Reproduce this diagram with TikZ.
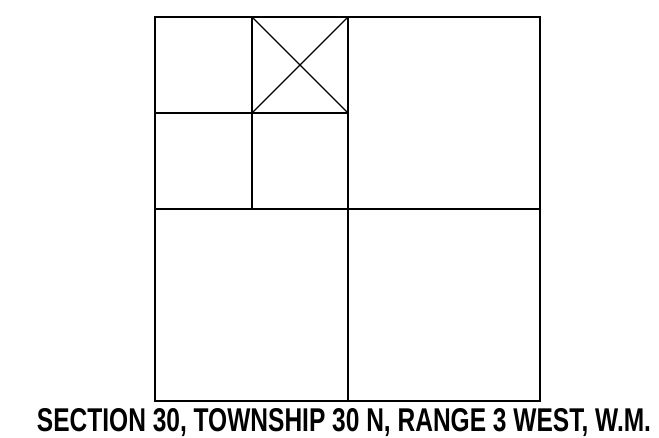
\documentclass[tikz,border=0pt]{standalone}
\usepackage{fontspec}
\setmainfont{Liberation Sans}
\begin{document}
\begin{tikzpicture}[x=1pt,y=1pt,line width=1.6pt,
  gridline/.style={draw=black,line width=1.6pt},
  xline/.style={draw=black,line width=1.3pt}]
\useasboundingbox (0,0) rectangle (659,437);
\coordinate (sw) at (155,36);
\coordinate (ne) at (540,420);
\coordinate (mt) at (348,420);
\coordinate (mb) at (348,36);
\coordinate (ml) at (155,228);
\coordinate (mr) at (540,228);
\coordinate (qt) at (252,420);
\coordinate (qb) at (252,228);
\coordinate (ql) at (155,324);
\coordinate (qr) at (348,324);
\draw[gridline] (sw) rectangle (ne);
\draw[gridline] (mt) -- (mb);
\draw[gridline] (ml) -- (mr);
\draw[gridline] (qt) -- (qb);
\draw[gridline] (ql) -- (qr);
\draw[xline] (qt) -- (qr);
\draw[xline] (mt) -- (252,324);
\node[anchor=base,inner sep=0pt] (caption) at (344,6)
  {\resizebox{614pt}{23pt}{\bfseries SECTION 30, TOWNSHIP 30 N, RANGE 3 WEST, W.M.}};
\end{tikzpicture}
\end{document}
